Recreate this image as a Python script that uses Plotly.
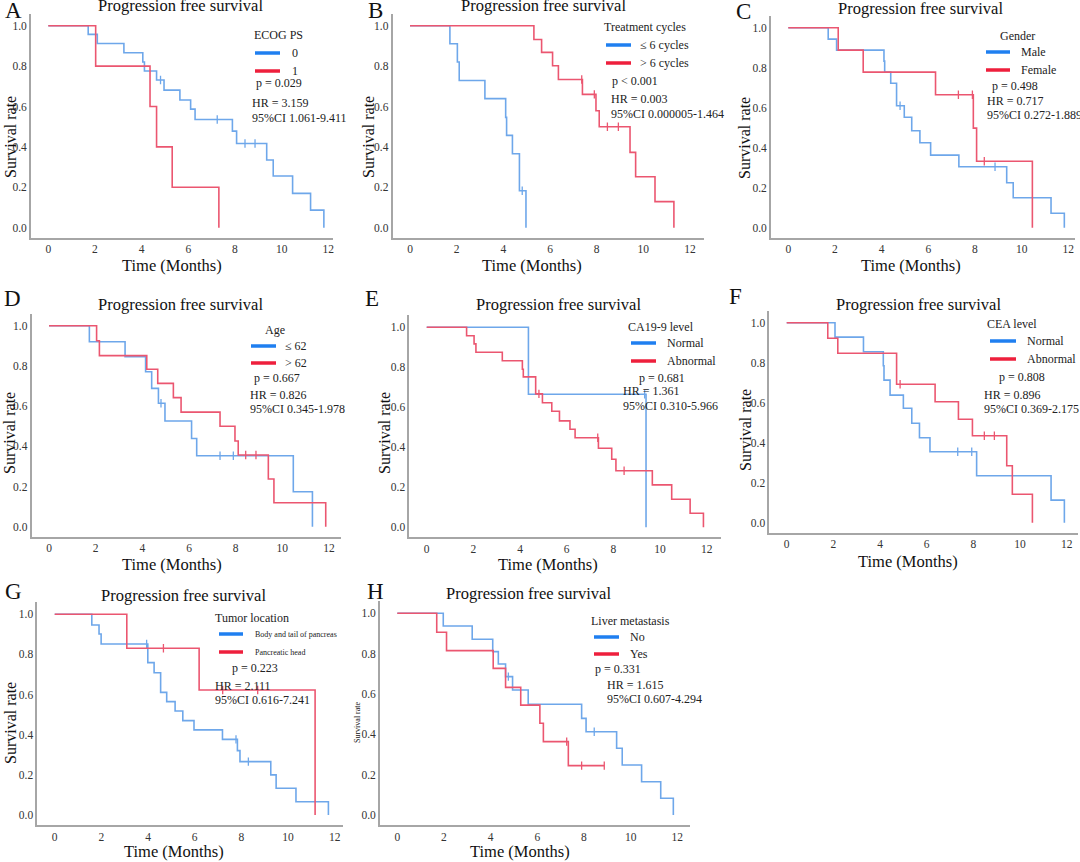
import plotly.graph_objects as go

W, H = 1080, 862
FONT = "Liberation Serif"
BLUE_LINE = "#6ea7ea"
RED_LINE = "#eb5670"
BLUE_LEG = "#1f7ff0"
RED_LEG = "#ee1f3c"

# ---------------- data ----------------
panel_letters = ["A", "B", "C", "D", "E", "F", "G", "H"]
legend_titles = ["ECOG PS", "Treatment cycles", "Gender", "Age", "CA19-9 level",
                 "CEA level", "Tumor location", "Liver metastasis"]
blue_names = ["0", "≤ 6 cycles", "Male", "≤ 62", "Normal", "Normal",
              "Body and tail of pancreas", "No"]
red_names = ["1", "> 6 cycles", "Female", "> 62", "Abnormal", "Abnormal",
             "Pancreatic head", "Yes"]
p_texts = ["p = 0.029", "p < 0.001", "p = 0.498", "p = 0.667", "p = 0.681",
           "p = 0.808", "p = 0.223", "p = 0.331"]
hr_texts = ["HR = 3.159", "HR = 0.003", "HR = 0.717", "HR = 0.826", "HR = 1.361",
            "HR = 0.896", "HR = 2.111", "HR = 1.615"]
ci_texts = ["95%CI 1.061-9.411", "95%CI 0.000005-1.464", "95%CI 0.272-1.889",
            "95%CI 0.345-1.978", "95%CI 0.310-5.966", "95%CI 0.369-2.175",
            "95%CI 0.616-7.241", "95%CI 0.607-4.294"]

a_blue_t = [1.71, 2.1, 3.24, 4.05, 4.12, 4.64, 4.96, 5.64, 6.1, 6.29, 7.89, 8.07, 9.36, 9.64, 10.47, 11.24, 11.81]
a_blue_s = [0.957, 0.912, 0.866, 0.82, 0.776, 0.731, 0.681, 0.632, 0.587, 0.536, 0.478, 0.417, 0.335, 0.256, 0.17, 0.087, 0.0]
a_blue_c = [4.81, 7.24, 8.43, 8.86]
a_red_t = [2.03, 4.36, 4.64, 5.31, 7.31]
a_red_s = [0.8, 0.6, 0.4, 0.2, 0.0]
a_red_c = []

b_blue_t = [1.71, 2.03, 2.11, 3.21, 4.1, 4.14, 4.39, 4.69, 4.97]
b_blue_s = [0.911, 0.82, 0.729, 0.639, 0.546, 0.457, 0.366, 0.183, 0.0]
b_blue_c = [4.81]
b_red_t = [5.31, 5.64, 6.11, 6.36, 7.39, 7.97, 8.11, 9.43, 9.67, 10.5, 11.31]
b_red_s = [0.932, 0.868, 0.802, 0.734, 0.66, 0.579, 0.5, 0.373, 0.252, 0.129, 0.0]
b_red_c = [7.36, 7.9, 8.46, 8.93]

c_blue_t = [1.71, 2.07, 4.1, 4.13, 4.39, 4.64, 4.97, 5.29, 5.64, 6.1, 7.31, 9.36, 9.64, 11.26, 11.83]
c_blue_s = [0.943, 0.888, 0.833, 0.778, 0.722, 0.61, 0.552, 0.485, 0.425, 0.363, 0.305, 0.225, 0.15, 0.072, 0.0]
c_blue_c = [4.79, 8.86]
c_red_t = [2.14, 3.21, 6.31, 7.93, 8.07, 10.46]
c_red_s = [0.888, 0.778, 0.665, 0.498, 0.332, 0.0]
c_red_c = [7.29, 7.89, 8.4]

d_blue_t = [1.73, 3.26, 4.14, 4.4, 4.69, 4.97, 6.11, 6.33, 10.47, 11.29]
d_blue_s = [0.92, 0.846, 0.771, 0.688, 0.614, 0.526, 0.439, 0.353, 0.174, 0.0]
d_blue_c = [4.8, 7.33, 7.9]
d_red_t = [2.04, 2.16, 4.19, 4.66, 5.33, 5.66, 7.33, 7.97, 8.11, 9.4, 9.64, 11.86]
d_red_s = [0.925, 0.851, 0.783, 0.713, 0.642, 0.57, 0.5, 0.426, 0.357, 0.237, 0.119, 0.0]
d_red_c = [8.43, 8.87]

e_blue_t = [4.36, 9.4]
e_blue_s = [0.665, 0.0]
e_blue_c = [9.34]
e_red_t = [1.71, 2.03, 2.11, 3.24, 4.1, 4.14, 4.67, 4.96, 5.36, 5.69, 6.14, 6.36, 7.36, 7.93, 8.11, 9.67, 10.5, 11.29, 11.86]
e_red_s = [0.958, 0.917, 0.875, 0.833, 0.79, 0.752, 0.667, 0.623, 0.58, 0.532, 0.49, 0.448, 0.395, 0.34, 0.283, 0.212, 0.14, 0.07, 0.0]
e_red_c = [4.81, 7.33, 8.46]

f_blue_t = [2.07, 3.29, 4.14, 4.17, 4.43, 5.0, 5.36, 5.69, 6.14, 8.14, 11.33, 11.9]
f_blue_s = [0.928, 0.855, 0.785, 0.713, 0.638, 0.572, 0.497, 0.425, 0.355, 0.235, 0.113, 0.0]
f_blue_c = [7.33, 7.93]
f_red_t = [1.76, 2.19, 4.71, 6.36, 7.36, 7.96, 9.43, 9.67, 10.53]
f_red_s = [0.922, 0.847, 0.692, 0.605, 0.517, 0.435, 0.285, 0.142, 0.0]
f_red_c = [4.86, 8.47, 8.9]

g_blue_t = [1.59, 1.9, 1.99, 3.99, 4.26, 4.54, 4.8, 5.16, 5.49, 5.97, 7.19, 7.83, 7.94, 9.26, 9.49, 10.34, 11.73]
g_blue_s = [0.947, 0.902, 0.852, 0.759, 0.709, 0.611, 0.565, 0.518, 0.47, 0.424, 0.377, 0.321, 0.266, 0.2, 0.133, 0.066, 0.0]
g_blue_c = [3.94, 7.77, 8.3]
g_red_t = [3.09, 6.19, 11.16]
g_red_s = [0.831, 0.623, 0.0]
g_red_c = [4.66, 7.2, 8.7]

h_blue_t = [1.97, 3.21, 4.09, 4.33, 4.64, 4.94, 5.61, 7.9, 8.09, 9.4, 9.64, 10.47, 11.29, 11.83]
h_blue_s = [0.937, 0.871, 0.81, 0.749, 0.686, 0.62, 0.549, 0.479, 0.413, 0.331, 0.248, 0.165, 0.083, 0.0]
h_blue_c = [4.76, 8.44]
h_red_t = [1.69, 2.11, 4.11, 4.64, 5.29, 6.11, 6.26, 7.33]
h_red_s = [0.906, 0.815, 0.727, 0.633, 0.545, 0.455, 0.364, 0.245]
h_red_c = [7.26, 7.9, 8.87]

blue_series = [(a_blue_t, a_blue_s, a_blue_c), (b_blue_t, b_blue_s, b_blue_c),
               (c_blue_t, c_blue_s, c_blue_c), (d_blue_t, d_blue_s, d_blue_c),
               (e_blue_t, e_blue_s, e_blue_c), (f_blue_t, f_blue_s, f_blue_c),
               (g_blue_t, g_blue_s, g_blue_c), (h_blue_t, h_blue_s, h_blue_c)]
red_series = [(a_red_t, a_red_s, a_red_c), (b_red_t, b_red_s, b_red_c),
              (c_red_t, c_red_s, c_red_c), (d_red_t, d_red_s, d_red_c),
              (e_red_t, e_red_s, e_red_c), (f_red_t, f_red_s, f_red_c),
              (g_red_t, g_red_s, g_red_c), (h_red_t, h_red_s, h_red_c)]

x_ticks = [0, 2, 4, 6, 8, 10, 12]
y_ticks = [0.0, 0.2, 0.4, 0.6, 0.8, 1.0]

# ---------------- layout geometry (reference pixels) ----------------
geom = [
    dict(pos0=48.3, y1=25.7, y0=227.7, xmax=12.2),
    dict(pos0=410.0, y1=25.7, y0=227.7, xmax=12.6),
    dict(pos0=788.3, y1=27.7, y0=227.7, xmax=12.3),
    dict(pos0=49.0, y1=325.7, y0=526.7, xmax=12.5),
    dict(pos0=426.7, y1=327.3, y0=527.3, xmax=12.6),
    dict(pos0=786.7, y1=322.7, y0=522.7, xmax=12.5),
    dict(pos0=54.7, y1=614.3, y0=815.0, xmax=12.36),
    dict(pos0=397.3, y1=613.3, y0=815.0, xmax=12.55),
]
PPM = 70.0 / 3.0
XMIN = -0.75
YMIN, YMAX = -0.05, 1.06

letter_pos = [(13, 10), (375, 10), (743, 12), (12, 298), (372, 298), (735, 296), (13, 591), (375, 591)]
title_pos = [(180, 6), (543, 6), (920, 8), (180, 305), (558, 305), (918, 305), (183, 595), (528, 593)]
xtitle_pos = [(172, 265), (532, 265), (911, 265), (172, 564), (548, 564), (908, 561), (174, 851), (520, 851)]
ytitle_pos = [(10, 137), (368, 137), (744, 138), (10, 433), (385, 433), (745, 430), (10, 723), (357, 722)]
leg_title_pos = [(252, 35), (602, 27), (998, 36), (263, 330), (626, 327), (985, 324), (213, 618), (589, 621)]
leg_line_x = [(255, 280), (606, 631), (986, 1010), (251, 276), (631, 656), (990, 1016), (219, 243), (594, 619)]
leg_text_x = [290, 638, 1019, 283, 665, 1025, 253, 628]
leg_y = [(53, 71), (45, 63), (52, 70), (346, 363), (343, 361), (341, 359), (634, 652), (637, 654)]
p_pos = [(254, 83), (610, 81), (990, 86), (252, 378), (637, 378), (997, 377), (230, 668), (593, 669)]
hr_pos = [(250, 103), (609, 99), (985, 101), (248, 395), (621, 391), (982, 395), (213, 686), (605, 685)]
ci_pos = [(250, 118), (609, 114), (985, 115), (248, 409), (621, 406), (982, 409), (213, 700), (605, 699)]


def px(x):
    return x / W


def py(y):
    return 1 - y / H


def surv_at(times, surv, t):
    s = 1.0
    for ti, si in zip(times, surv):
        if ti <= t:
            s = si
    return s


fig = go.Figure()
annotations = []
shapes = []


def ann(text, pos, size, anchor="left", color="#222222", angle=0):
    annotations.append(dict(text=text, x=px(pos[0]), y=py(pos[1]), xref="paper", yref="paper",
                            xanchor=anchor, yanchor="middle", showarrow=False, textangle=angle,
                            font=dict(family=FONT, size=size, color=color)))


for i in range(8):
    g = geom[i]
    ppy = g["y0"] - g["y1"]
    xd = [px(g["pos0"] + XMIN * PPM), min(1.0, px(g["pos0"] + g["xmax"] * PPM))]
    yd = [py(g["y0"] - YMIN * ppy), min(1.0, py(g["y1"] - (YMAX - 1) * ppy))]
    sfx = "" if i == 0 else str(i + 1)
    xa, ya = "x" + sfx, "y" + sfx
    axis_common = dict(showline=True, linecolor="#a6a6a6", linewidth=1.5, showgrid=False,
                       zeroline=False, ticks="", tickfont=dict(family=FONT, size=11.5, color="#333333"))
    fig.layout["xaxis" + sfx] = dict(domain=xd, range=[XMIN, g["xmax"]], anchor=ya,
                                    tickvals=x_ticks, **axis_common)
    fig.layout["yaxis" + sfx] = dict(domain=yd, range=[YMIN, YMAX], anchor=xa,
                                    tickvals=y_ticks, tickformat=".1f", **axis_common)

    for (times, surv, cens), col in ((blue_series[i], BLUE_LINE), (red_series[i], RED_LINE)):
        xs = [0] + list(times)
        ys = [1.0] + list(surv)
        if cens and max(cens) > max(times):
            xs.append(max(cens))
            ys.append(surv[-1])
        fig.add_trace(go.Scatter(x=xs, y=ys, mode="lines", line=dict(color=col, width=1.6, shape="hv"),
                                 xaxis=xa, yaxis=ya, showlegend=False, hoverinfo="skip"))
        if cens:
            fig.add_trace(go.Scatter(x=cens, y=[surv_at(times, surv, c) for c in cens], mode="markers",
                                     marker=dict(symbol="line-ns-open", size=6, color=col,
                                                 line=dict(color=col, width=1.3)),
                                     xaxis=xa, yaxis=ya, showlegend=False, hoverinfo="skip"))

    ann(panel_letters[i], letter_pos[i], 23, "center", "#111111")
    ann("Progression free survival", title_pos[i], 16.5, "center", "#111111")
    ann("Time (Months)", xtitle_pos[i], 16.5, "center", "#111111")
    ann("Survival rate", ytitle_pos[i], 16 if i != 7 else 8, "center", "#111111", -90)
    ann(legend_titles[i], leg_title_pos[i], 12)
    item_size = 8 if i == 6 else 12
    for name, col, yy in ((blue_names[i], BLUE_LEG, leg_y[i][0]), (red_names[i], RED_LEG, leg_y[i][1])):
        shapes.append(dict(type="line", xref="paper", yref="paper",
                           x0=px(leg_line_x[i][0]), x1=px(leg_line_x[i][1]), y0=py(yy), y1=py(yy),
                           line=dict(color=col, width=3.5)))
        ann(name, (leg_text_x[i], yy), item_size)
    ann(p_texts[i], p_pos[i], 12)
    ann(hr_texts[i], hr_pos[i], 12)
    ann(ci_texts[i], ci_pos[i], 12)

fig.update_layout(width=W, height=H, margin=dict(l=0, r=0, t=0, b=0),
                  paper_bgcolor="white", plot_bgcolor="white",
                  annotations=annotations, shapes=shapes, showlegend=False)
# place the figure flush with the window's top-left corner (no default page margin)
fig.write_html("out.html", config={"displayModeBar": False},
               post_script="document.body.style.margin='0';document.body.style.overflow='hidden';")
